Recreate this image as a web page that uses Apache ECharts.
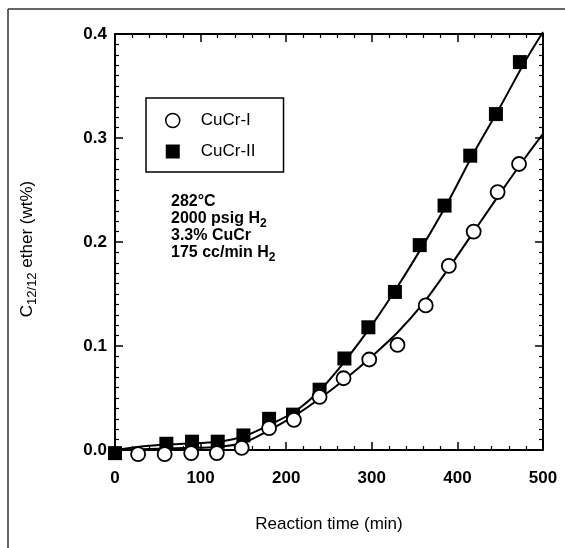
<!DOCTYPE html>
<html>
<head>
<meta charset="utf-8">
<script src="https://cdn.jsdelivr.net/npm/echarts@6/dist/echarts.min.js"></script>
<style>
html,body{margin:0;padding:0;background:#fff;}
#chart{width:565px;height:548px;}
</style>
</head>
<body>
<div id="chart"></div>
<script>
// Data
var seriesNames = ['CuCr-I', 'CuCr-II'];
var cucr1X = [27, 58, 89, 119, 148, 180, 209, 239, 267, 297, 330, 363, 390, 419, 447, 472];
var cucr1Y = [-0.004, -0.004, -0.003, -0.003, 0.002, 0.021, 0.029, 0.051, 0.069, 0.087, 0.101, 0.139, 0.177, 0.210, 0.248, 0.275];
var cucr2X = [0, 60, 90, 120, 150, 180, 208, 239, 268, 296, 327, 356, 385, 415, 445, 473];
var cucr2Y = [-0.003, 0.006, 0.008, 0.008, 0.014, 0.030, 0.034, 0.058, 0.088, 0.118, 0.152, 0.197, 0.235, 0.283, 0.323, 0.373];
// fitted curves
var fitX = [0, 40, 80, 120, 150, 180, 210, 240, 270, 300, 330, 360, 390, 420, 450, 480, 500];
var fit1Y = [0.000, 0.001, 0.002, 0.003, 0.007, 0.019, 0.033, 0.050, 0.069, 0.090, 0.113, 0.141, 0.175, 0.211, 0.247, 0.282, 0.304];
var fit2Y = [0.000, 0.004, 0.006, 0.008, 0.013, 0.024, 0.037, 0.058, 0.087, 0.120, 0.157, 0.197, 0.240, 0.287, 0.330, 0.375, 0.402];
var xTicks = [0, 100, 200, 300, 400, 500];
var yTicks = [0.0, 0.1, 0.2, 0.3, 0.4];
var annotationLines = ['282°C', '2000 psig H{s|2}', '3.3% CuCr', '175 cc/min H{s|2}'];

function pairs(xs, ys) { return xs.map(function (x, i) { return [x, ys[i]]; }); }

var FONT = '"Liberation Sans", Arial, Helvetica, sans-serif';
var chart = echarts.init(document.getElementById('chart'), null, {renderer: 'canvas'});

var axisCommonX = {
  type: 'value', min: xTicks[0], max: xTicks[xTicks.length - 1], interval: 100,
  axisLine: {show: true, onZero: false, lineStyle: {color: '#000', width: 2}},
  axisTick: {show: true, inside: true, length: 8, lineStyle: {color: '#000', width: 1.5}},
  minorTick: {show: true, splitNumber: 5, length: 4, lineStyle: {color: '#000', width: 1.2}},
  splitLine: {show: false}
};
var axisCommonY = {
  type: 'value', min: yTicks[0], max: yTicks[yTicks.length - 1], interval: 0.1,
  axisLine: {show: true, onZero: false, lineStyle: {color: '#000', width: 2}},
  axisTick: {show: true, inside: true, length: 8, lineStyle: {color: '#000', width: 1.5}},
  minorTick: {show: true, splitNumber: 10, length: 4, lineStyle: {color: '#000', width: 1.2}},
  splitLine: {show: false}
};

var annY0 = 202, annStep = 17;
var graphics = [
  {type: 'line', shape: {x1: 8, y1: 9, x2: 565, y2: 9}, style: {stroke: '#333', lineWidth: 1.5}, silent: true},
  {type: 'line', shape: {x1: 8, y1: 9, x2: 8, y2: 548}, style: {stroke: '#333', lineWidth: 1.5}, silent: true},
  {
    type: 'text', x: 27, y: 249, rotation: Math.PI / 2,
    style: {
      text: 'C{s|12/12} ether (wt%)',
      font: '17px ' + FONT, fill: '#000', align: 'center', verticalAlign: 'middle',
      rich: {s: {fontSize: 13, fontFamily: FONT, padding: [10, 0, 0, 0]}}
    }
  }
];
annotationLines.forEach(function (t, i) {
  graphics.push({
    type: 'text', x: 171, y: annY0 + i * annStep,
    style: {
      text: t, font: 'bold 16px ' + FONT, fill: '#000', align: 'left', verticalAlign: 'middle',
      rich: {s: {fontSize: 12, fontWeight: 'bold', fontFamily: FONT, padding: [9, 0, 0, 0]}}
    }
  });
});

var option = {
  backgroundColor: '#fff',
  animation: false,
  textStyle: {fontFamily: FONT},
  grid: {left: 115, right: 22, top: 34, bottom: 98, containLabel: false},
  legend: {
    left: 146, top: 98, orient: 'vertical',
    backgroundColor: '#fff',
    borderColor: '#000', borderWidth: 1.5,
    padding: [14, 28, 12, 19],
    itemWidth: 14, itemHeight: 14, itemGap: 14, itemTextGap: 5,
    textStyle: {fontSize: 17, color: '#000', fontFamily: FONT, padding: [0, 0, 0, 16]},
    data: [
      {name: seriesNames[0], icon: 'circle', itemStyle: {color: '#fff', borderColor: '#000', borderWidth: 1.5}},
      {name: seriesNames[1], icon: 'rect', itemStyle: {color: '#000'}}
    ]
  },
  xAxis: [
    Object.assign({}, axisCommonX, {
      position: 'bottom',
      axisLabel: {show: true, fontSize: 17, fontWeight: 'bold', color: '#000', margin: 20, fontFamily: FONT},
      name: 'Reaction time (min)', nameLocation: 'middle', nameGap: 66,
      nameTextStyle: {fontSize: 17, color: '#000', fontFamily: FONT}
    }),
    Object.assign({}, axisCommonX, {position: 'top', axisLabel: {show: false}})
  ],
  yAxis: [
    Object.assign({}, axisCommonY, {
      position: 'left',
      axisLabel: {show: true, fontSize: 17, fontWeight: 'bold', color: '#000', margin: 8, fontFamily: FONT,
        formatter: function (v) { return v.toFixed(1); }}
    }),
    Object.assign({}, axisCommonY, {position: 'right', axisLabel: {show: false}})
  ],
  series: [
    {
      name: 'fit-I', type: 'line', smooth: 0.3, showSymbol: false, symbol: 'none',
      data: pairs(fitX, fit1Y), lineStyle: {color: '#000', width: 2}, z: 2, clip: false,
      legendHoverLink: false
    },
    {
      name: 'fit-II', type: 'line', smooth: 0.3, showSymbol: false, symbol: 'none',
      data: pairs(fitX, fit2Y), lineStyle: {color: '#000', width: 2}, z: 2, clip: false,
      legendHoverLink: false
    },
    {
      name: seriesNames[0], type: 'scatter', symbol: 'circle', symbolSize: 14, clip: false,
      data: pairs(cucr1X, cucr1Y),
      itemStyle: {color: '#fff', borderColor: '#000', borderWidth: 1.8, opacity: 1}, z: 4
    },
    {
      name: seriesNames[1], type: 'scatter', symbol: 'rect', symbolSize: 14, clip: false,
      data: pairs(cucr2X, cucr2Y),
      itemStyle: {color: '#000', opacity: 1}, z: 3
    }
  ],
  graphic: graphics
};
chart.setOption(option);
</script>
</body>
</html>
